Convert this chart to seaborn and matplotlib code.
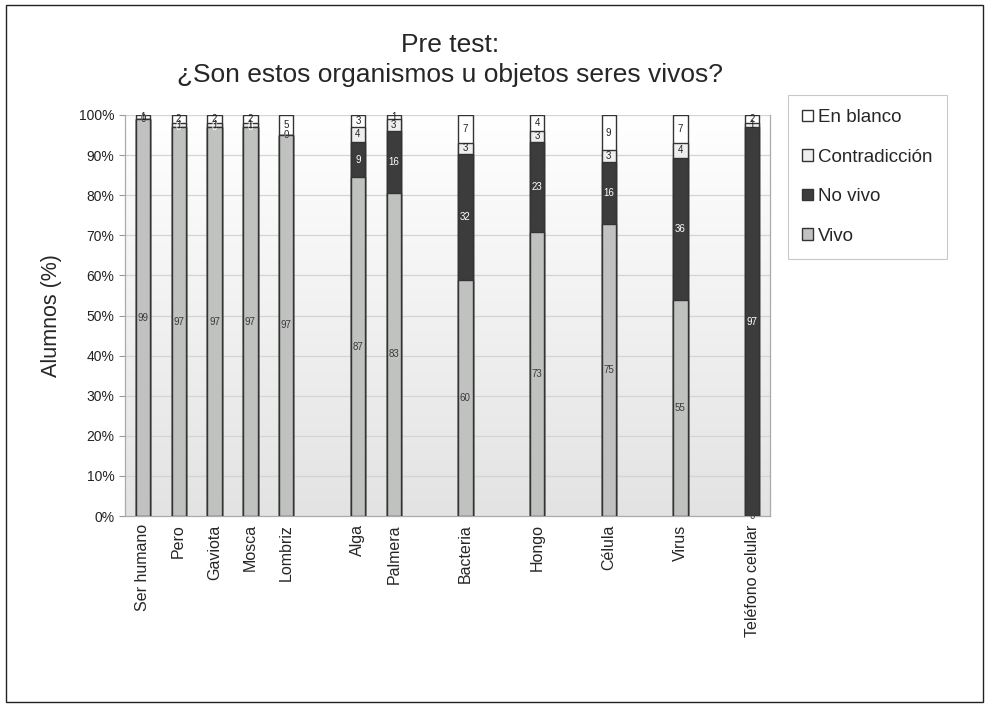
# Pre test: stacked 100% bars of student answers per organism/object
import numpy as np
import pandas as pd
import seaborn as sns
import matplotlib.pyplot as plt
from matplotlib.patches import Patch, Rectangle
from matplotlib.colors import LinearSegmentedColormap

# ---------------- data ----------------
categorias = ["Ser humano", "Pero", "Gaviota", "Mosca", "Lombriz",
              "Alga", "Palmera", "Bacteria", "Hongo", "Célula", "Virus",
              "Teléfono celular"]
# slot on the x axis (the original sheet had empty columns between groups)
slots = [0, 1, 2, 3, 4, 6, 7, 9, 11, 13, 15, 17]

vivo = [99, 97, 97, 97, 97, 87, 83, 60, 73, 75, 55, 0]
no_vivo = [0, 0, 0, 0, 0, 9, 16, 32, 23, 16, 36, 97]
contradiccion = [0, 1, 1, 1, 0, 4, 3, 3, 3, 3, 4, 1]
en_blanco = [1, 2, 2, 2, 5, 3, 1, 7, 4, 9, 7, 2]

series = ["Vivo", "No vivo", "Contradicción", "En blanco"]
colores = {"Vivo": "#c0c2c0", "No vivo": "#3c3c3c",
           "Contradicción": "#eeeeee", "En blanco": "#ffffff"}
color_txt = {"Vivo": "#3a3a3a", "No vivo": "#ffffff",
             "Contradicción": "#222222", "En blanco": "#222222"}

df = pd.DataFrame({"cat": categorias, "pos": slots, "Vivo": vivo,
                   "No vivo": no_vivo, "Contradicción": contradiccion,
                   "En blanco": en_blanco})
total = df[series].sum(axis=1)
pct = df[series].div(total, axis=0) * 100
cum = pct.cumsum(axis=1)

# ---------------- plot ----------------
sns.set_style("white")
plt.rcParams["font.family"] = ["Liberation Sans", "DejaVu Sans"]

fig = plt.figure(figsize=(9.89, 7.08), dpi=100)
ax = fig.add_axes([125 / 989, 1 - 516 / 708, 645 / 989, 401 / 708])

# gradient background of the plot area (white on top, light grey below)
fondo = LinearSegmentedColormap.from_list("fondo", ["#e3e3e3", "#ffffff"])
grad = np.linspace(1, 0, 256).reshape(-1, 1)
ax.imshow(grad, extent=(-0.5, 17.5, 0, 100), aspect="auto", cmap=fondo,
          vmin=0, vmax=1, zorder=0, origin="upper")

for y in range(10, 101, 10):
    ax.axhline(y, color="#d4d4d4", lw=0.9, zorder=1)

# draw stacked bars as overlapping cumulative bars (tallest first)
for s in reversed(series):
    sns.barplot(x=df["pos"], y=cum[s], native_scale=True, ax=ax,
                color=colores[s], edgecolor="#333333", linewidth=1.0,
                width=0.4, saturation=1, zorder=3)

# data labels
for i in range(len(df)):
    for s in series:
        centro = cum[s].iloc[i] - pct[s].iloc[i] / 2
        ax.text(df["pos"].iloc[i], centro, str(df[s].iloc[i]),
                ha="center", va="center", fontsize=7,
                color=color_txt[s], zorder=5)

ax.set_xlim(-0.5, 17.5)
ax.set_ylim(0, 100)
ax.set_yticks(range(0, 101, 10))
ax.set_yticklabels([f"{v}%" for v in range(0, 101, 10)], fontsize=10,
                   color="#222222")
ax.set_xticks(slots)
ax.set_xticklabels(categorias, rotation=90, fontsize=11.5)
ax.set_xticks(np.arange(-0.5, 18, 1), minor=True)
ax.tick_params(axis="x", which="major", length=0, pad=6)
ax.tick_params(axis="x", which="minor", length=4, color="#999999",
               direction="out")
ax.tick_params(axis="y", length=4, color="#999999", direction="out",
               left=True)
ax.set_xlabel("")
ax.set_ylabel("Alumnos (%)", fontsize=15.5, labelpad=12)

for side in ["left", "bottom", "right"]:
    ax.spines[side].set_color("#aaaaaa")
    ax.spines[side].set_linewidth(0.9)
ax.spines["top"].set_visible(False)

fig.text(450 / 989, 1 - 60 / 708,
         "Pre test:\n¿Son estos organismos u objetos seres vivos?",
         ha="center", va="center", fontsize=19, linespacing=1.3)

handles = [Patch(facecolor=colores[s], edgecolor="#333333", label=s)
           for s in reversed(series)]
leg = fig.legend(handles=handles, loc="upper left",
                 bbox_to_anchor=(788 / 989, 1 - 95 / 708), frameon=True,
                 fancybox=False, edgecolor="#bbbbbb", fontsize=13.5,
                 handlelength=0.6, handleheight=0.6, handletextpad=0.25,
                 labelspacing=1.2, borderpad=0.75, borderaxespad=0)
leg.get_frame().set_linewidth(0.8)

# thin frame around the whole picture
fig.patches.append(Rectangle((0.006, 0.008), 0.988, 0.985,
                             transform=fig.transFigure, fill=False,
                             edgecolor="#222222", lw=1.0))

fig.savefig("out.png", dpi=100)
